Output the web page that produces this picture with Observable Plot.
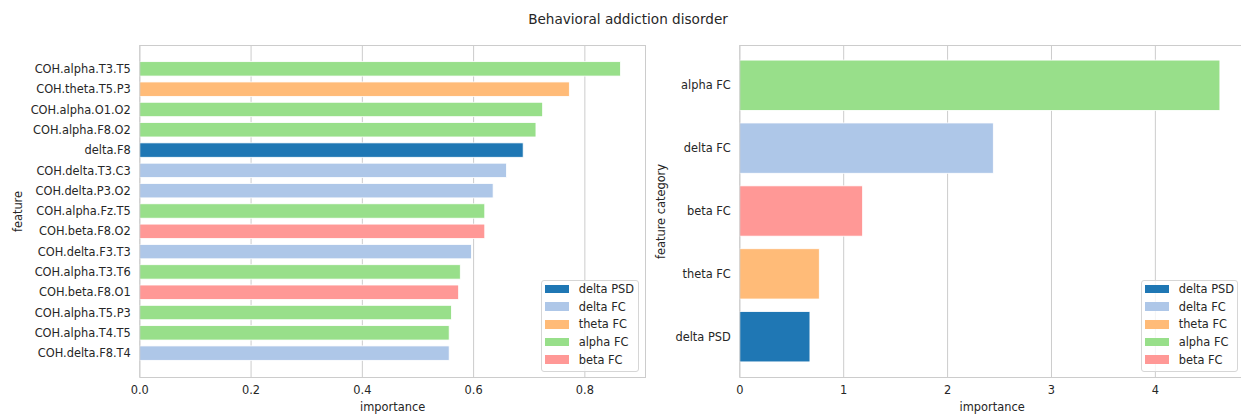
<!DOCTYPE html>
<html><head><meta charset="utf-8">
<script src="https://cdn.jsdelivr.net/npm/d3@7"></script>
<script src="https://cdn.jsdelivr.net/npm/@observablehq/plot@0.6"></script>
<style>
html,body{margin:0;padding:0;background:#fff;overflow:hidden;}
#root{position:relative;width:1241px;height:415px;overflow:hidden;font-family:"DejaVu Sans",sans-serif;color:#262626;background:#fff;}
#root svg{position:absolute;top:0;}
.title{position:absolute;left:0;top:11px;width:1256px;text-align:center;font-size:13.6px;line-height:16px;white-space:nowrap;}
.legend{position:absolute;top:280px;height:92px;background:rgba(255,255,255,0.8);border:1px solid #d6d6d6;border-radius:3px;box-sizing:border-box;font-size:11.4px;z-index:2;}
.legend .sw{position:absolute;left:3.5px;width:24px;height:8.5px;}
.legend .lb{position:absolute;left:37px;line-height:14px;white-space:nowrap;}
</style>
</head><body>
<div id="root">
  <div class="title">Behavioral addiction disorder</div>
</div>
<script>
// ---- data ----
const features = ["COH.alpha.T3.T5","COH.theta.T5.P3","COH.alpha.O1.O2","COH.alpha.F8.O2","delta.F8","COH.delta.T3.C3","COH.delta.P3.O2","COH.alpha.Fz.T5","COH.beta.F8.O2","COH.delta.F3.T3","COH.alpha.T3.T6","COH.beta.F8.O1","COH.alpha.T5.P3","COH.alpha.T4.T5","COH.delta.F8.T4"];
const featureImportance = [0.865,0.773,0.725,0.713,0.690,0.660,0.636,0.621,0.621,0.597,0.577,0.574,0.561,0.557,0.557];
const featureCategory = ["alpha FC","theta FC","alpha FC","alpha FC","delta PSD","delta FC","delta FC","alpha FC","beta FC","delta FC","alpha FC","beta FC","alpha FC","alpha FC","delta FC"];

const categories = ["delta PSD","delta FC","theta FC","alpha FC","beta FC"];
const categoryColors = ["#1f77b4","#aec7e8","#ffbb78","#98df8a","#ff9896"];

const categoryOrder = ["alpha FC","delta FC","beta FC","theta FC","delta PSD"];
const categoryImportance = [4.626,2.445,1.187,0.770,0.680];

const xTicksLeft = [0,0.2,0.4,0.6,0.8];
const xTicksRight = [0,1,2,3,4];

// ---- tables ----
const leftData = features.map((f,i)=>({feature:f, importance:featureImportance[i], category:featureCategory[i]}));
const rightData = categoryOrder.map((c,i)=>({category:c, importance:categoryImportance[i]}));

const FS = 11.4;
const root = document.getElementById("root");
const common = {fontFamily:"DejaVu Sans", fontSize:FS+"px", color:"#262626", background:"transparent", overflow:"visible"};

const left = Plot.plot({
  width:650, height:415, marginLeft:139.3, marginRight:5, marginTop:45, marginBottom:38,
  style:common,
  x:{domain:[0,0.909]},
  y:{domain:features, paddingInner:0.29, paddingOuter:0.82, align:0.5, round:false},
  color:{domain:categories, range:categoryColors},
  marks:[
    Plot.gridX(xTicksLeft,{stroke:"#cccccc", strokeOpacity:1, strokeWidth:1}),
    Plot.barX(leftData,{x:"importance", y:"feature", fill:"category", stroke:"white", strokeWidth:0.8}),
    Plot.frame({stroke:"#cccccc", strokeWidth:1}),
    Plot.axisX(xTicksLeft,{tickSize:0, tickPadding:8, tickFormat:d3.format(".1f"), label:"importance", labelAnchor:"center", labelOffset:33.5, labelArrow:false, fontSize:FS}),
    Plot.axisY({tickSize:0, tickPadding:9, label:"feature", labelAnchor:"center", labelOffset:126, fontSize:FS})
  ]
});
left.style.left = "0px";
root.appendChild(left);

const right = Plot.plot({
  width:600, height:415, marginLeft:89.3, marginRight:6, marginTop:45, marginBottom:38,
  style:common,
  x:{domain:[0,4.858]},
  y:{domain:categoryOrder, paddingInner:0.2, paddingOuter:0.24, align:0.5, round:false},
  color:{domain:categories, range:categoryColors},
  marks:[
    Plot.gridX(xTicksRight,{stroke:"#cccccc", strokeOpacity:1, strokeWidth:1}),
    Plot.barX(rightData,{x:"importance", y:"category", fill:"category", stroke:"white", strokeWidth:0.8}),
    Plot.frame({stroke:"#cccccc", strokeWidth:1}),
    Plot.axisX(xTicksRight,{tickSize:0, tickPadding:8, tickFormat:d3.format("d"), label:"importance", labelAnchor:"center", labelOffset:33.5, labelArrow:false, fontSize:FS}),
    Plot.axisY({tickSize:0, tickPadding:9, label:"feature category", labelAnchor:"center", labelOffset:83, fontSize:FS})
  ]
});
right.style.left = "650px";
root.appendChild(right);

// ---- legends ----
function addLegend(x, w){
  const box = document.createElement("div");
  box.className = "legend";
  box.style.left = x+"px";
  box.style.width = w+"px";
  const centers = [9,26.7,44.3,62,79.7];
  categories.forEach((c,i)=>{
    const sw = document.createElement("div");
    sw.className = "sw";
    sw.style.background = categoryColors[i];
    sw.style.top = (centers[i]-1-4.25)+"px";
    box.appendChild(sw);
    const lb = document.createElement("div");
    lb.className = "lb";
    lb.textContent = c;
    lb.style.top = (centers[i]-1-7)+"px";
    box.appendChild(lb);
  });
  root.appendChild(box);
}
addLegend(540.7, 98.6);
addLegend(1140.7, 97.5);
</script>
</body></html>
